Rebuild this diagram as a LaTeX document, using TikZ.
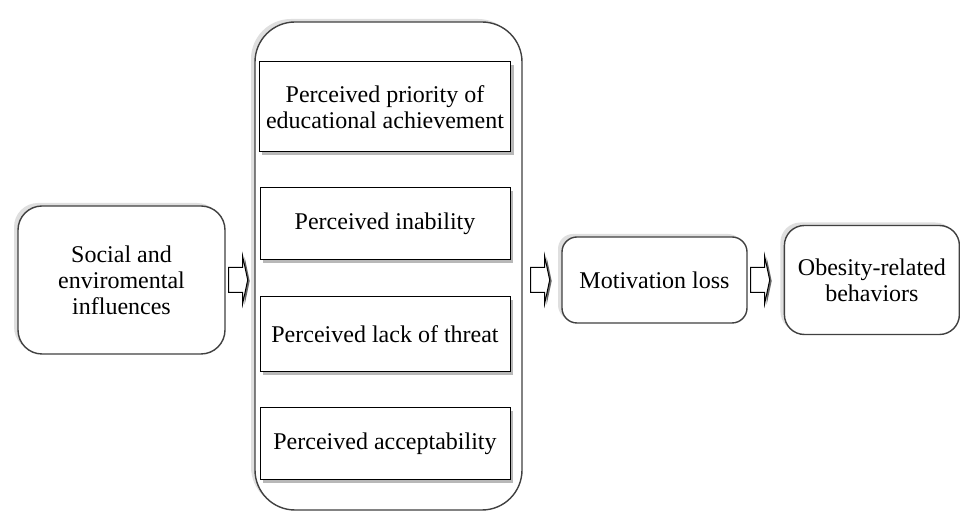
\documentclass[tikz,border=0pt]{standalone}
\usepackage{fontspec}
\setmainfont{Liberation Serif}
\usepackage{tikz}
\usetikzlibrary{positioning}
\usetikzlibrary{shadows}

\begin{document}
\begin{tikzpicture}[x=0.5pt, y=-0.5pt,
				font=\fontsize{12}{13}\selectfont,
				outer/.style={draw=black!75, line width=0.7pt, fill=white, rectangle, drop shadow={shadow xshift=-2pt, shadow yshift=1.5pt, fill=black!25}},
				internal/.style={draw, rectangle, line width=0.5pt, fill=white, minimum width=125pt, drop shadow={shadow xshift=1.5pt, shadow yshift=-1.5pt, fill=black!55}},
				blockarrow/.style={draw, line width=0.5pt, fill=white, line join=miter},
				every text node part/.style={align=center}]
				\useasboundingbox (0,0) rectangle (960,512);
				
				\node[outer, rounded corners=12pt, minimum width=103.5pt, minimum height=74pt](social) at (121.5, 280) {Social and\\enviromental\\influences};
				
				\node[outer, rounded corners=20pt, minimum width=133.5pt, minimum height=244pt](container) at (388.5, 266) {};
				\node[internal, minimum height=45pt](perc1) at (385, 107) {Perceived priority of\\educational achievement};
				\node[internal, minimum height=36pt, below=17.5pt of perc1](perc2) {Perceived inability};
				\node[internal, minimum height=37.5pt, below=18pt of perc2](perc3) {Perceived lack of threat};
				\node[internal, minimum height=36pt, below=17.5pt of perc3](perc4) {Perceived acceptability};
				
				\node[outer, rounded corners=7.5pt, minimum width=92.5pt, minimum height=43pt](motivation) at (654.5, 280) {Motivation loss};
				\node[outer, rounded corners=10pt, minimum width=87.5pt, minimum height=54.5pt, right=18pt of motivation](obesity) {Obesity-related\\behaviors};
				
				% block arrows between the boxes
				\coordinate[xshift=1.5pt] (arrow1) at (social.east);
				\coordinate[xshift=4pt] (arrow2) at (container.east |- motivation.west);
				\coordinate[xshift=1.5pt] (arrow3) at (motivation.east);
				\foreach \a in {arrow1, arrow2, arrow3}{
					\fill[black!60] ([xshift=1pt, yshift=-0.5pt]\a) ++(7pt,11.75pt) -- ++(2.5pt,-11.75pt) -- ++(-2.5pt,-11.75pt) -- cycle;
					\draw[blockarrow] (\a) ++(0,6.25pt) -- ++(7pt,0) -- ++(0,5.5pt) -- ++(2.5pt,-11.75pt) -- ++(-2.5pt,-11.75pt) -- ++(0,5.5pt) -- ++(-7pt,0) -- cycle;
				}
				
			\end{tikzpicture}
\end{document}
